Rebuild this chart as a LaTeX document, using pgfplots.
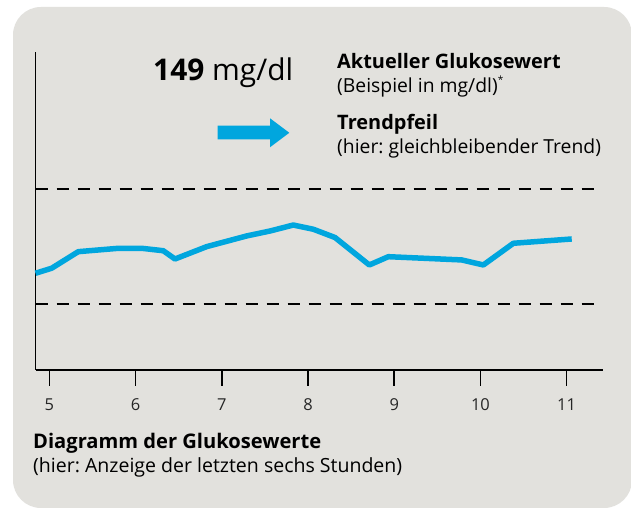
\documentclass[border=0pt]{standalone}
\usepackage{pgfplots}
\pgfplotsset{compat=1.18}
\usepackage{fontspec}
\setmainfont{Open Sans}
\definecolor{panel}{HTML}{E2E1DD}
\definecolor{cyanline}{HTML}{00A6DE}
\begin{document}
\frenchspacing
\begin{tikzpicture}[x=1bp,y=1bp]
\useasboundingbox (0,0) rectangle (631,509);
\fill[white] (0,0) rectangle (631,509);
\fill[panel, rounded corners=28bp] (13,1) rectangle (632,502);
\begin{axis}[at={(35.5bp,139bp)}, anchor=south west, scale only axis,
  width=567.5bp, height=318bp,
  xmin=4.839, xmax=11.422, ymin=7.3, ymax=310.7,
  axis x line=bottom, axis y line=left,
  axis line style={-, line width=1.8bp, black},
  xtick={5,6,7,8,9,10,11}, ytick=\empty,
  tick align=outside, major tick length=16bp,
  tick style={black, line width=1.6bp},
  xticklabel style={font=\fontsize{16.5}{19}\selectfont, text=black!85, yshift=-9bp},
  /pgf/number format/assume math mode=true,
  clip=false]
\addplot[black, line width=1.8bp, dash pattern=on 12bp off 9bp] coordinates {(4.839,180) (11.364,180)};
\addplot[black, line width=1.8bp, dash pattern=on 12bp off 9bp] coordinates {(4.839,70) (11.364,70)};
\addplot[cyanline, line width=5.5bp, line join=round] coordinates {
(4.839,99.6) (5.027,104.4) (5.335,120.2) (5.799,123.4) (6.071,123.4)
(6.321,121.1) (6.457,113.2) (6.825,125.0) (7.289,135.2) (7.559,139.9)
(7.829,145.6) (8.061,141.6) (8.313,133.7) (8.711,107.5) (8.932,115.4)
(9.783,112.3) (10.034,107.5) (10.382,128.2) (11.059,132.3)};
\end{axis}
% arrow
\fill[cyanline] (217.7,383.3) -- (270,383.3) -- (270,390.7) -- (289.3,376.2) -- (270,361.7) -- (270,369.7) -- (217.7,369.7) -- cycle;
% texts
\node[anchor=base west, inner sep=0] at (153,428) {\fontsize{30}{36}\selectfont\textbf{149} mg/dl};
\node[anchor=base west, inner sep=0] at (337,440) {\fontsize{20}{24}\selectfont\textbf{Aktueller Glukosewert}};
\node[anchor=base west, inner sep=0] at (337,416) {\fontsize{19.4}{23}\selectfont(Beispiel in mg/dl)\raisebox{0.9ex}{\fontsize{10}{12}\selectfont*}};
\node[anchor=base west, inner sep=0] at (337,379) {\fontsize{20}{24}\selectfont\textbf{Trendpfeil}};
\node[anchor=base west, inner sep=0] at (337,355) {\fontsize{19.4}{23}\selectfont(hier: gleichbleibender Trend)};
\node[anchor=base west, inner sep=0] at (33,60) {\fontsize{20.2}{24}\selectfont\textbf{Diagramm der Glukosewerte}};
\node[anchor=base west, inner sep=0] at (33,36) {\fontsize{19.6}{23}\selectfont(hier: Anzeige der letzten sechs Stunden)};
\end{tikzpicture}
\end{document}
